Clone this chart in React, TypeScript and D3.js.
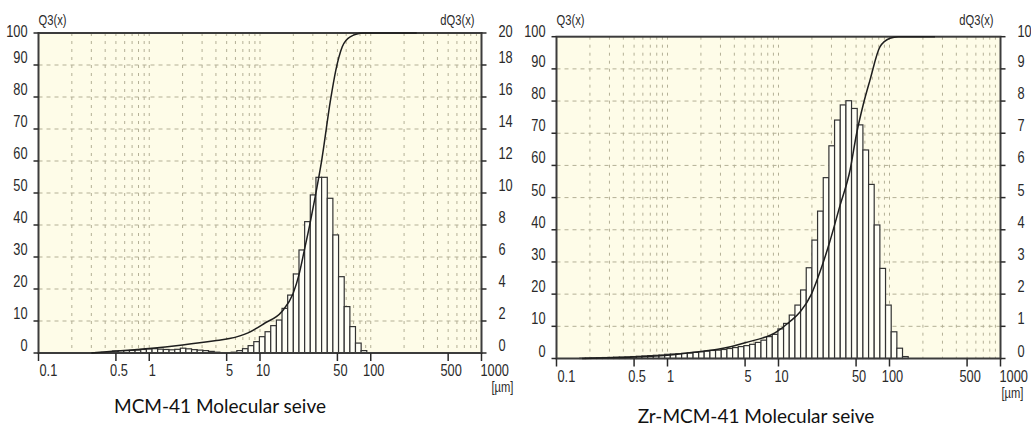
import React from "react";
import * as d3 from "d3";

// Particle size class edges (µm), shared by both histograms
const binEdges = [
  0.162, 0.182, 0.205, 0.23, 0.259, 0.291, 0.327, 0.368, 0.414, 0.466, 0.524, 0.589, 0.663, 0.745,
  0.838, 0.943, 1.06, 1.19, 1.34, 1.51, 1.7, 1.91, 2.14, 2.41, 2.71, 3.05, 3.43, 3.86, 4.34, 4.88,
  5.49, 6.18, 6.95, 7.81, 8.79, 9.88, 11.11, 12.5, 14.06, 15.81, 17.78, 20.0, 22.49, 25.3, 28.45,
  32.0, 36.0, 40.5, 45.5, 51.2, 57.6, 64.8, 72.8, 81.9, 92.1, 103.6, 116.5, 131.0, 147.4,
];

// MCM-41: dQ3 per class
const dq3MCM = [
  0, 0, 0, 0, 0, 0.02, 0.03, 0.04, 0.06, 0.12, 0.15, 0.15, 0.16, 0.18, 0.22, 0.25, 0.27, 0.24, 0.22,
  0.2, 0.23, 0.3, 0.26, 0.21, 0.18, 0.15, 0.1, 0.05, 0.02, 0.02, 0.05, 0.15, 0.27, 0.46, 0.71, 1.02,
  1.33, 1.71, 2.06, 2.79, 3.62, 4.94, 6.44, 8.21, 9.88, 10.98, 10.98, 9.67, 7.38, 4.77, 2.9, 1.65,
  0.62, 0.15, 0, 0, 0, 0,
];

// Zr-MCM-41: dQ3 per class
const dq3Zr = [
  0.01, 0.015, 0.02, 0.025, 0.03, 0.035, 0.04, 0.045, 0.05, 0.06, 0.07, 0.08, 0.09, 0.1, 0.11, 0.13,
  0.14, 0.15, 0.16, 0.17, 0.19, 0.21, 0.23, 0.25, 0.26, 0.28, 0.31, 0.34, 0.37, 0.4, 0.44, 0.5, 0.57,
  0.68, 0.75, 0.92, 1.09, 1.35, 1.66, 2.13, 2.82, 3.68, 4.58, 5.62, 6.61, 7.41, 7.88, 8.01, 7.77,
  7.26, 6.48, 5.41, 4.15, 2.8, 1.66, 0.83, 0.32, 0.06,
];

// Cumulative Q3 curves (size µm, Q3 %)
const q3SizesMCM = [0.3, 0.5, 1.0, 2.0, 3.9, 5.3, 7.8, 11.0, 15.7, 19.9, 22.5, 25.1, 28.3, 31.5, 36.1, 43.3, 48.4, 55.3, 65.2, 86, 260];
const q3ValuesMCM = [0, 0.6, 1.4, 2.5, 3.8, 4.5, 6.3, 9.3, 12.9, 18.6, 24.5, 32, 40.5, 48.8, 60.3, 79, 88.4, 95.7, 98.8, 100, 100];

const q3SizesZr = [0.17, 0.37, 1.0, 2.0, 3.0, 5.0, 9.6, 12.7, 15.7, 19.8, 23.7, 29.1, 35.8, 44.1, 50.6, 58.1, 66.7, 82, 101, 120, 257];
const q3ValuesZr = [0, 0.3, 1.0, 2.2, 3.0, 4.9, 8.3, 11.5, 14.5, 20, 27, 36.5, 47.5, 58.5, 70, 79, 86.5, 96.8, 99.5, 100, 100];

// Axis tick labels
const xTickValues = [0.1, 0.5, 1, 5, 10, 50, 100, 500, 1000];
const xTickLabels = ["0.1", "0.5", "1", "5", "10", "50", "100", "500", "1000"];
const q3Ticks = [0, 10, 20, 30, 40, 50, 60, 70, 80, 90, 100];

const captions = ["MCM-41 Molecular seive", "Zr-MCM-41 Molecular seive"];

const NARROW = "'Liberation Sans Narrow', 'Liberation Sans', Arial, sans-serif";
const INK = "#2a2a2a";
const BG = "#fefce8";
const GRID = "#b4b096";

function NText({ x, y, anchor = "start", size = 16, children }: any) {
  return (
    <text
      transform={`translate(${x},${y}) scale(0.8,1)`}
      textAnchor={anchor}
      fontSize={size}
      fontFamily={NARROW}
      fill={INK}
    >
      {children}
    </text>
  );
}

function Panel({ cfg, dq, sizes, values, caption }: any) {
  const x = d3.scaleLog().domain([0.1, 1000]).range([cfg.left, cfg.right]);
  const yQ = d3.scaleLinear().domain([0, 100]).range([cfg.bottom, cfg.top]);
  const yD = d3.scaleLinear().domain([0, cfg.dMax]).range([cfg.bottom, cfg.top]);

  const minor: number[] = [];
  [0.1, 1, 10, 100].forEach((dec) => {
    for (let k = 1; k <= 9; k++) {
      const v = k * dec;
      if (v > 0.1 + 1e-9 && v < 1000) minor.push(v);
    }
  });

  const dTicks = d3.range(0, cfg.dMax + 1e-9, cfg.dStep);
  const pts = sizes.map((s: number, i: number) => [s, values[i]]);
  const line = d3
    .line<any>()
    .x((d) => x(d[0]))
    .y((d) => yQ(d[1]))
    .curve(d3.curveMonotoneX);

  const w = cfg.right - cfg.left;
  const h = cfg.bottom - cfg.top;

  return (
    <g>
      <rect x={cfg.left} y={cfg.top} width={w} height={h} fill={BG} />
      {/* vertical dotted grid */}
      {minor.map((v) => (
        <line
          key={"v" + v}
          x1={x(v)}
          x2={x(v)}
          y1={cfg.top}
          y2={cfg.bottom}
          stroke={GRID}
          strokeWidth={1}
          strokeDasharray="3,5"
        />
      ))}
      {/* horizontal dashed grid */}
      {q3Ticks.slice(1, -1).map((q) => (
        <line
          key={"h" + q}
          x1={cfg.left}
          x2={cfg.right}
          y1={yQ(q)}
          y2={yQ(q)}
          stroke={GRID}
          strokeWidth={1}
          strokeDasharray="4,4"
        />
      ))}
      {/* histogram bars */}
      {dq.map((v: number, i: number) =>
        v > 0 ? (
          <rect
            key={"b" + i}
            x={x(binEdges[i])}
            y={yD(v)}
            width={x(binEdges[i + 1]) - x(binEdges[i])}
            height={cfg.bottom - yD(v)}
            fill="#fffff6"
            stroke="#333"
            strokeWidth={1.2}
          />
        ) : null
      )}
      {/* frame */}
      <rect x={cfg.left} y={cfg.top} width={w} height={h} fill="none" stroke="#3c3c3c" strokeWidth={2} />
      {/* cumulative curve */}
      <path d={line(pts) || ""} fill="none" stroke="#1e1e1e" strokeWidth={1.5} />
      {/* left ticks + labels */}
      {q3Ticks.map((q) => (
        <g key={"lq" + q}>
          <line x1={cfg.left - 5} x2={cfg.left} y1={yQ(q)} y2={yQ(q)} stroke={INK} strokeWidth={1.5} />
          <NText x={cfg.left - 11} y={Math.max(yQ(q) - 2, 36.5)} anchor="end">
            {q}
          </NText>
        </g>
      ))}
      {/* right ticks + labels */}
      {dTicks.map((d) => (
        <g key={"rd" + d}>
          <line x1={cfg.right} x2={cfg.right + 5} y1={yD(d)} y2={yD(d)} stroke={INK} strokeWidth={1.5} />
          <NText x={cfg.right + 17} y={Math.max(yD(d) - 2, 36.5)} anchor="start">
            {d}
          </NText>
        </g>
      ))}
      {/* bottom ticks + labels */}
      {xTickValues.map((v, i) => {
        const first = i === 0;
        const last = i === xTickValues.length - 1;
        return (
          <g key={"xt" + v}>
            <line x1={x(v)} x2={x(v)} y1={cfg.bottom} y2={cfg.bottom + 8} stroke={INK} strokeWidth={1.5} />
            <NText
              x={first ? x(v) + 1 : last ? x(v) - 1 : x(v) + 3}
              y={cfg.bottom + 23}
              anchor={first || last ? "start" : "middle"}
            >
              {xTickLabels[i]}
            </NText>
          </g>
        );
      })}
      <NText x={cfg.left} y={24.5} size={14}>
        Q3(x)
      </NText>
      <NText x={cfg.right - 7} y={24.5} size={14} anchor="end">
        dQ3(x)
      </NText>
      <NText x={cfg.right + cfg.unitDx} y={cfg.bottom + 39} size={14} anchor="middle">
        [µm]
      </NText>
      <text
        x={cfg.capX}
        y={cfg.capY}
        textAnchor="middle"
        fontSize={19}
        fontFamily="Lato, 'Open Sans', sans-serif"
        fill="#111"
      >
        {caption}
      </text>
    </g>
  );
}

export default function App() {
  const left = { left: 38.5, right: 481.5, top: 33, bottom: 353, dMax: 20, dStep: 2, unitDx: 21, capX: 220, capY: 413 };
  const right = { left: 556.5, right: 1000.5, top: 36.7, bottom: 358.5, dMax: 10, dStep: 1, unitDx: 12, capX: 756, capY: 423 };
  return (
    <svg
      width={1031}
      height={427}
      style={{ position: "absolute", left: 0, top: 0, background: "#fff" }}
    >
      <rect x={0} y={0} width={1031} height={427} fill="#fff" />
      <Panel cfg={left} dq={dq3MCM} sizes={q3SizesMCM} values={q3ValuesMCM} caption={captions[0]} />
      <Panel cfg={right} dq={dq3Zr} sizes={q3SizesZr} values={q3ValuesZr} caption={captions[1]} />
    </svg>
  );
}
